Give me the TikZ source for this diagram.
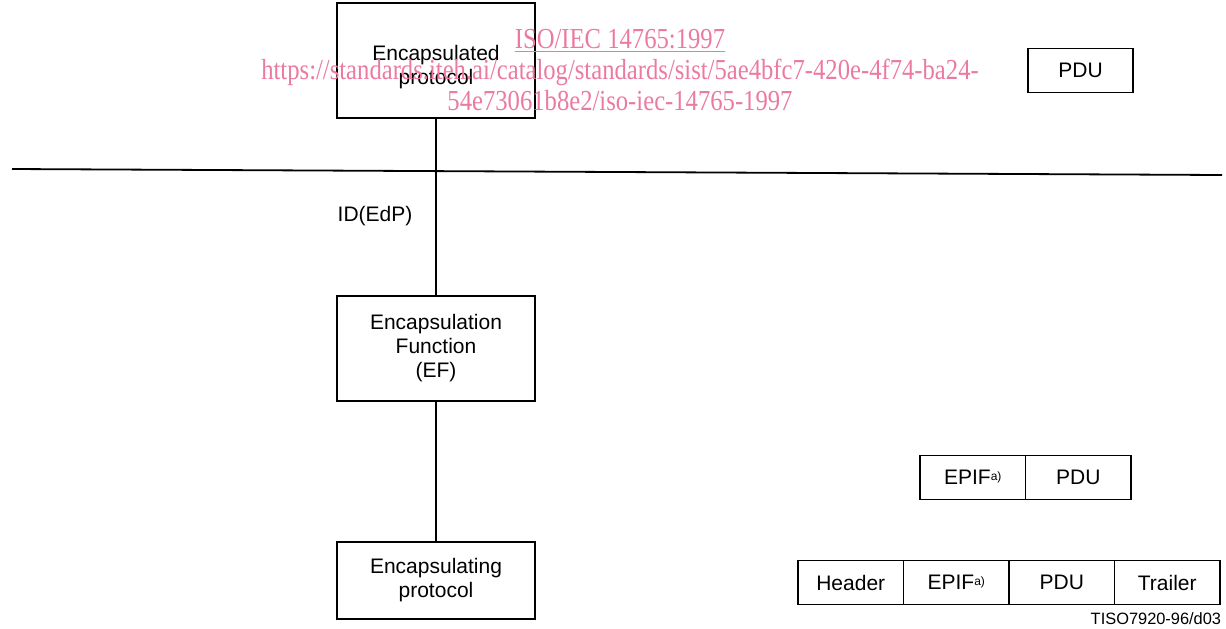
\documentclass[tikz,border=0pt]{standalone}
\usepackage{fontspec}
\setmainfont{Liberation Sans}
\newfontfamily\wmfont{Liberation Serif}
\usetikzlibrary{positioning}
\definecolor{wmpink}{RGB}{236,122,160}
\tikzset{
  blk/.style={draw, line width=0.9pt, align=center, inner sep=0pt,
    font=\fontsize{10.5}{12}\selectfont},
  cell/.style={blk, outer sep=0pt, minimum width=52.75pt, minimum height=22pt},
}
\newcommand{\supa}{\raisebox{0.35ex}{\fontsize{6}{6}\selectfont a)}}

\begin{document}
\begin{tikzpicture}[x=0.5pt, y=-0.5pt, line width=0.9pt]
  \useasboundingbox (0,0) rectangle (1226,628);

  % Protocol stack
  \node[blk, minimum width=99pt, minimum height=57.5pt] (edp) at (436,60.5) {\rule{0pt}{14pt}Encapsulated\\protocol};
  \node[blk, minimum width=99pt, minimum height=52.5pt] (ef) at (436,348.5) {Encapsulation\\Function\\(EF)};
  \node[blk, minimum width=99pt, minimum height=38.5pt] (eg) at (436,580.5) {Encapsulating\\protocol};

  \draw (edp) -- (ef);
  \draw (ef) -- (eg);
  \node[font=\fontsize{10.5}{12}\selectfont] (id) at (375,216) {ID(EdP)};

  % Layer boundary
  \coordinate (hl) at (12,169);
  \coordinate (hr) at (1222,175);
  \draw (hl) -- (hr);

  % Data units
  \node[cell] (pdu1) at (1080.5,70.5) {PDU};

  \node[cell] (epif2) at (972.75,477.5) {EPIF\supa};
  \node[cell, right=0pt of epif2] (pdu2) {PDU};

  \node[cell] (hdr) at (850.75,582.5) {Header};
  \node[cell, right=0pt of hdr] (epif3) {EPIF\supa};
  \node[cell, right=0pt of epif3] (pdu3) {PDU};
  \node[cell, right=0pt of pdu3] (trl) {Trailer};

  \node[anchor=east, inner sep=0pt, font=\fontsize{8.2}{9}\selectfont] (tag) at (1222,619) {TISO7920-96/d03};

  % Watermark
  \node[align=center, inner sep=0pt, text=wmpink, font=\wmfont\fontsize{14.5}{15.5}\selectfont] (wm) at (620,70)
    {\scalebox{0.85}[1]{\underline{ISO/IEC 14765:1997}}\\
     \scalebox{0.85}[1]{https://standards.iteh.ai/catalog/standards/sist/5ae4bfc7-420e-4f74-ba24-}\\
     \scalebox{0.85}[1]{54e73061b8e2/iso-iec-14765-1997}};
\end{tikzpicture}
\end{document}
